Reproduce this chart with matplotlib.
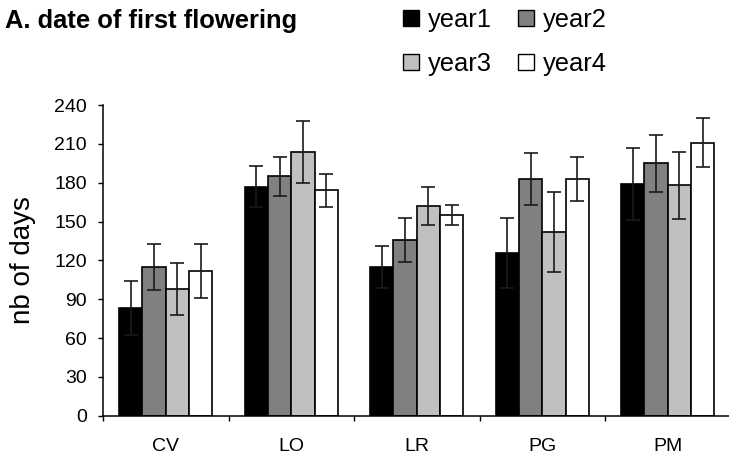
import matplotlib
matplotlib.use("Agg")
import matplotlib.pyplot as plt
from matplotlib.patches import Patch
import numpy as np

plt.rcParams['font.family'] = ['Liberation Sans', 'DejaVu Sans']

categories = ["CV", "LO", "LR", "PG", "PM"]
series = ["year1", "year2", "year3", "year4"]
year1 = [83, 177, 115, 126, 179]
year2 = [115, 185, 136, 183, 195]
year3 = [98, 204, 162, 142, 178]
year4 = [112, 174, 155, 183, 211]
err1 = [21, 16, 16, 27, 28]
err2 = [18, 15, 17, 20, 22]
err3 = [20, 24, 15, 31, 26]
err4 = [21, 13, 8, 17, 19]
colors = ["#000000", "#808080", "#c0c0c0", "#ffffff"]
yticks = [0, 30, 60, 90, 120, 150, 180, 210, 240]

values = [year1, year2, year3, year4]
errs = [err1, err2, err3, err4]

W, H = 729, 461
fig = plt.figure(figsize=(W / 100, H / 100), dpi=100)
ax = fig.add_axes([103 / W, (H - 415.7) / H, 627.5 / W, 310.7 / H])

x = np.arange(len(categories))
w = 0.186
for i, (vals, e, c) in enumerate(zip(values, errs, colors)):
    pos = x + (i - 1.5) * w
    ax.bar(pos, vals, width=w, color=c, edgecolor="black", linewidth=1.2, zorder=2)
    ax.errorbar(pos, vals, yerr=e, fmt="none", ecolor="#1a1a1a", elinewidth=1.2,
                capsize=5, capthick=1.2, zorder=3)

ax.set_xlim(-0.5, 4.5)
ax.set_ylim(0, 240)
ax.set_yticks(yticks)
ax.set_yticklabels([str(t) for t in yticks], fontsize=14)
ax.set_xticks(np.arange(-0.5, 5, 1.0))
ax.set_xticklabels([])
ax.set_xticks(x, minor=True)
ax.set_xticklabels(categories, minor=True, fontsize=14)
ax.tick_params(axis="x", which="minor", length=0, pad=16)
ax.tick_params(axis="x", which="major", length=3.6, width=1, direction="out")
ax.tick_params(axis="y", length=3.6, width=1, direction="out", pad=8)
for s in ["top", "right"]:
    ax.spines[s].set_visible(False)
for s in ["left", "bottom"]:
    ax.spines[s].set_linewidth(1.1)
ax.set_ylabel("nb of days", fontsize=20, labelpad=13)

fig.text(5 / W, 1 - 21 / H, "A. date of first flowering", fontsize=18.4, fontweight="bold",
         va="center", ha="left")

handles = [Patch(facecolor=c, edgecolor="black", linewidth=1.0) for c in colors]
order = [0, 2, 1, 3]
fig.legend([handles[k] for k in order], [series[k] for k in order], ncol=2,
           loc="upper left", bbox_to_anchor=(398 / W, 1 - 3 / H),
           frameon=False, fontsize=18.4, handlelength=0.625, handleheight=0.625,
           handletextpad=0.35, columnspacing=1.0, labelspacing=0.78, borderaxespad=0,
           borderpad=0.2)

fig.savefig("out.png", dpi=100)
